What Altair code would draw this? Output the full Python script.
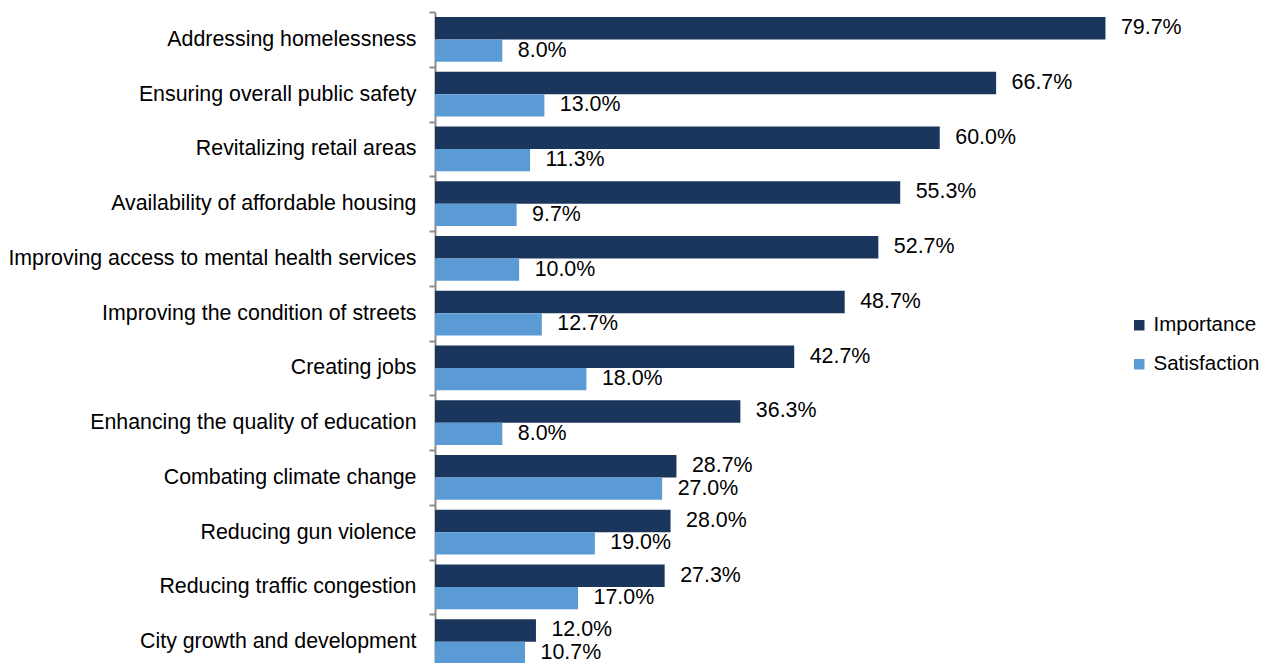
import altair as alt
import pandas as pd

categories = [
    "Addressing homelessness",
    "Ensuring overall public safety",
    "Revitalizing retail areas",
    "Availability of affordable housing",
    "Improving access to mental health services",
    "Improving the condition of streets",
    "Creating jobs",
    "Enhancing the quality of education",
    "Combating climate change",
    "Reducing gun violence",
    "Reducing traffic congestion",
    "City growth and development",
]
importance = [79.7, 66.7, 60.0, 55.3, 52.7, 48.7, 42.7, 36.3, 28.7, 28.0, 27.3, 12.0]
satisfaction = [8.0, 13.0, 11.3, 9.7, 10.0, 12.7, 18.0, 8.0, 27.0, 19.0, 17.0, 10.7]
series = ["Importance", "Satisfaction"]
colors = ["#1B365D", "#5B9BD5"]

rows = []
for c, i, s in zip(categories, importance, satisfaction):
    rows.append({"category": c, "series": series[0], "value": i})
    rows.append({"category": c, "series": series[1], "value": s})
df = pd.DataFrame(rows)

FONT = "Liberation Sans"
FS = 21.4
AXFS = 21.35
LEGFS = 20.5

base = alt.Chart(df).encode(
    y=alt.Y(
        "category:N",
        sort=categories,
        title=None,
        scale=alt.Scale(paddingInner=0, paddingOuter=0),
        axis=alt.Axis(
            tickBand="extent",
            labelFont=FONT,
            labelFontSize=AXFS,
            labelColor="#000000",
            labelPadding=13,
            labelLimit=600,
            domainColor="#8C8C8C",
            domainWidth=2,
            tickColor="#8C8C8C",
            tickWidth=2,
            tickSize=6,
        ),
    ),
    yOffset=alt.YOffset(
        "series:N",
        sort=series,
        scale=alt.Scale(paddingInner=0, paddingOuter=0.22),
    ),
    x=alt.X("value:Q", scale=alt.Scale(domain=[0, 80]), axis=None),
)

bars = base.mark_bar().encode(
    color=alt.Color(
        "series:N",
        sort=series,
        scale=alt.Scale(domain=series, range=colors),
        legend=alt.Legend(
            title=None,
            orient="none",
            legendX=694,
            legendY=303,
            padding=0,
            symbolType="square",
            symbolSize=110,
            symbolStrokeWidth=0,
            labelFont=FONT,
            labelFontSize=LEGFS,
            labelColor="#000000",
            rowPadding=18,
            labelOffset=4,
        ),
    )
)

labels = base.mark_text(
    align="left", baseline="middle", dx=15.5, font=FONT, fontSize=FS, color="#000000"
).transform_calculate(
    label="format(datum.value, '.1f') + '%'"
).encode(text="label:N")

chart = (
    alt.layer(bars, labels)
    .properties(
        width=673,
        height=657,
        autosize=alt.AutoSizeParams(type="none"),
        padding={"left": 427, "top": 4, "right": 157, "bottom": -6},
    )
    .configure_view(stroke=None)
)

chart.save("out.html", embed_options={"renderer": "svg", "actions": False})
